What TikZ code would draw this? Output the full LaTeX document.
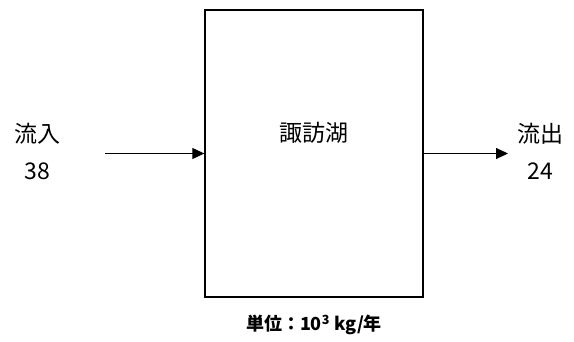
\documentclass[tikz,border=0pt]{standalone}
\usepackage{fontspec}
\setmainfont{Noto Sans CJK JP}
\usetikzlibrary{arrows.meta}
\begin{document}
\begin{tikzpicture}[x=1pt,y=1pt,
  lbl/.style={inner sep=0pt,font=\fontsize{23}{27}\selectfont},
  flow/.style={-{Triangle[length=12pt,width=11pt]},line width=1pt}]
\useasboundingbox[fill=white] (0,0) rectangle (574,341);
\node[draw,line width=1.3pt,minimum width=218pt,minimum height=287pt,inner sep=0pt] (lake) at (314,187.5) {};
\node[lbl] (lakename) at (314,208) {諏訪湖};
\node[lbl] (inlbl) at (37,207) {流入};
\node[lbl] (inval) at (37,170) {38};
\node[lbl] (outlbl) at (540,207) {流出};
\node[lbl] (outval) at (540,170) {24};
\coordinate (instart) at (105,187.5);
\coordinate (outend) at (508,187.5);
\draw[flow] (instart) -- (lake.west);
\draw[flow] (lake.east) -- (outend);
\node[inner sep=0pt,font=\fontsize{18}{21}\selectfont\bfseries] (unit) at (314,16) {単位：10\textsuperscript{3} kg/年};
\end{tikzpicture}
\end{document}
